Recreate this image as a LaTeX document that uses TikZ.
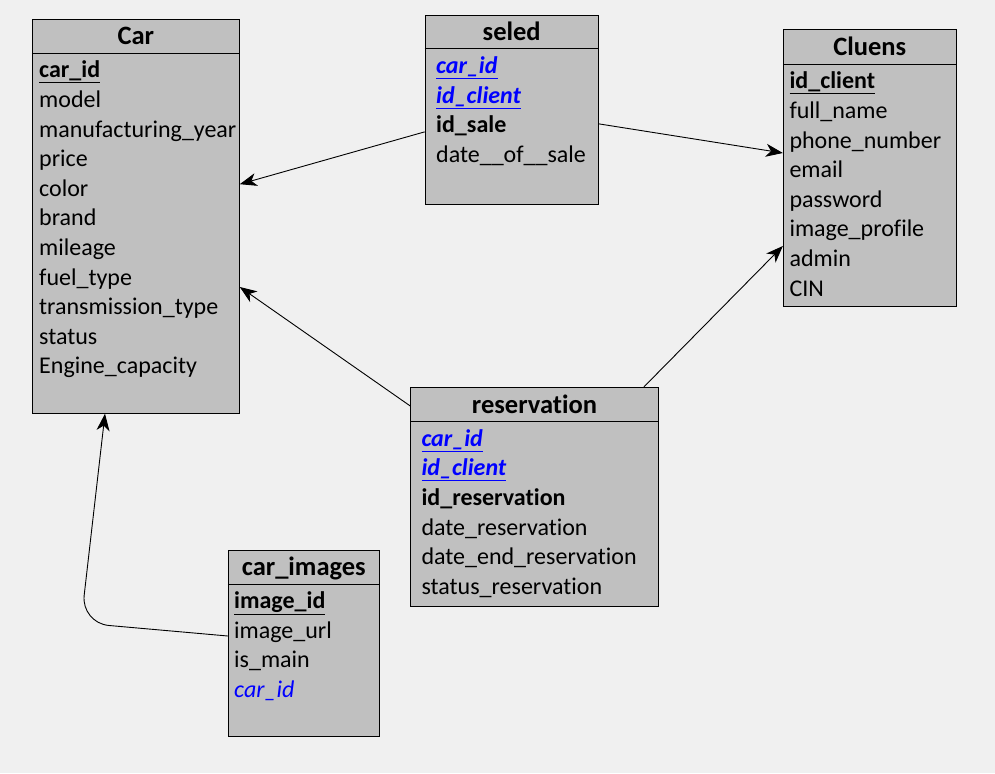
\documentclass[tikz,border=0pt]{standalone}
\usepackage{fontspec}
\setmainfont{Carlito}[RawFeature={-liga,-clig,-dlig,-calt}]
\usetikzlibrary{arrows.meta}
\definecolor{bgc}{HTML}{F0F0F0}
\definecolor{boxc}{HTML}{C0C0C0}
\definecolor{fkc}{HTML}{0000FF}
\newcommand{\rowfnt}{\fontsize{24}{29}\selectfont}
\newcommand{\ttlfnt}{\fontsize{26.5}{30}\selectfont\bfseries}
\newcommand{\pk}[1]{\textbf{\underline{#1}}}
\newcommand{\fk}[1]{\textcolor{fkc}{\textbf{\textit{\underline{#1}}}}}
\newcommand{\fkp}[1]{\textcolor{fkc}{\textit{#1}}}
\begin{document}
\begin{tikzpicture}[x=1pt,y=-1pt,
  tbl/.style={draw=black, line width=1pt, fill=boxc, inner sep=0pt},
  rowtxt/.style={anchor=base west, inner sep=0pt, font=\rowfnt, text=black},
  ttltxt/.style={anchor=base, inner sep=0pt, font=\ttlfnt, text=black},
  sepline/.style={line width=1pt, draw=black},
  arr/.style={line width=0.9pt, draw=black, -{Stealth[length=17pt,width=13pt,inset=5pt]}}]
\useasboundingbox[fill=bgc] (0,0) rectangle (995,773);

% ---------- Car ----------
\node[tbl, minimum width=207pt, minimum height=394pt] (car) at (135.8,216.2) {};
\draw[sepline] (car.west |- 0,53.3) -- (car.east |- 0,53.3);
\node[ttltxt] (cart) at (135.8,45) {Car};
\node[rowtxt] (c1) at (39,77.8) {\pk{car\_id}};
\node[rowtxt] (c2) at (39,107.4) {model};
\node[rowtxt] (c3) at (39,137.0) {manufacturing\_year};
\node[rowtxt] (c4) at (39,166.6) {price};
\node[rowtxt] (c5) at (39,196.2) {color};
\node[rowtxt] (c6) at (39,225.8) {brand};
\node[rowtxt] (c7) at (39,255.4) {mileage};
\node[rowtxt] (c8) at (39,285.0) {fuel\_type};
\node[rowtxt] (c9) at (39,314.6) {transmission\_type};
\node[rowtxt] (c10) at (39,344.2) {status};
\node[rowtxt] (c11) at (39,373.8) {Engine\_capacity};

% ---------- seled ----------
\node[tbl, minimum width=173pt, minimum height=188.3pt] (seled) at (511.7,109.85) {};
\draw[sepline] (seled.west |- 0,49) -- (seled.east |- 0,49);
\node[ttltxt] (seledt) at (511.7,40.7) {seled};
\node[rowtxt] (s1) at (436,73.5) {\fk{car\_id}};
\node[rowtxt] (s2) at (436,103.1) {\fk{id\_client}};
\node[rowtxt] (s3) at (436,132.7) {\textbf{id\_sale}};
\node[rowtxt] (s4) at (436,162.3) {date\_\_of\_\_sale};

% ---------- Cluens ----------
\node[tbl, minimum width=172.7pt, minimum height=276pt] (cl) at (869.7,168) {};
\draw[sepline] (cl.west |- 0,64.3) -- (cl.east |- 0,64.3);
\node[ttltxt] (clt) at (869.7,56) {Cluens};
\node[rowtxt] (k1) at (789.3,88.8) {\pk{id\_client}};
\node[rowtxt] (k2) at (789.3,118.4) {full\_name};
\node[rowtxt] (k3) at (789.3,148.0) {phone\_number};
\node[rowtxt] (k4) at (789.3,177.6) {email};
\node[rowtxt] (k5) at (789.3,207.2) {password};
\node[rowtxt] (k6) at (789.3,236.8) {image\_profile};
\node[rowtxt] (k7) at (789.3,266.4) {admin};
\node[rowtxt] (k8) at (789.3,296.0) {CIN};

% ---------- reservation ----------
\node[tbl, minimum width=247.6pt, minimum height=218.7pt] (res) at (534.5,496.65) {};
\draw[sepline] (res.west |- 0,421.7) -- (res.east |- 0,421.7);
\node[ttltxt] (rest) at (534.5,413.2) {reservation};
\node[rowtxt] (r1) at (421.3,446.2) {\fk{car\_id}};
\node[rowtxt] (r2) at (421.3,475.8) {\fk{id\_client}};
\node[rowtxt] (r3) at (421.3,505.4) {\textbf{id\_reservation}};
\node[rowtxt] (r4) at (421.3,535.0) {date\_reservation};
\node[rowtxt] (r5) at (421.3,564.6) {date\_end\_reservation};
\node[rowtxt] (r6) at (421.3,594.2) {status\_reservation};

% ---------- car_images ----------
\node[tbl, minimum width=151pt, minimum height=186pt] (ci) at (303.8,643.7) {};
\draw[sepline] (ci.west |- 0,584) -- (ci.east |- 0,584);
\node[ttltxt] (cit) at (303.8,575.5) {car\_images};
\node[rowtxt] (i1) at (234,608.5) {\pk{image\_id}};
\node[rowtxt] (i2) at (234,638.1) {image\_url};
\node[rowtxt] (i3) at (234,667.7) {is\_main};
\node[rowtxt] (i4) at (234,697.3) {\fkp{car\_id}};

% ---------- connectors ----------
\draw[arr] ([yshift=-22pt]seled.west) -- ([yshift=32pt]car.east);
\draw[arr] ([yshift=-14pt]seled.east) -- ([yshift=15pt]cl.west);
\draw[arr] ([yshift=90.7pt]res.west) -- ([yshift=-70.8pt]car.east);
\draw[arr] ([xshift=109.5pt]res.north) -- ([yshift=-78pt]cl.west);
\coordinate (bend) at (81,623);
\draw[arr, rounded corners=28pt] ([yshift=7.7pt]ci.west) -- (bend) -- ([xshift=-30.8pt]car.south);
\end{tikzpicture}
\end{document}
